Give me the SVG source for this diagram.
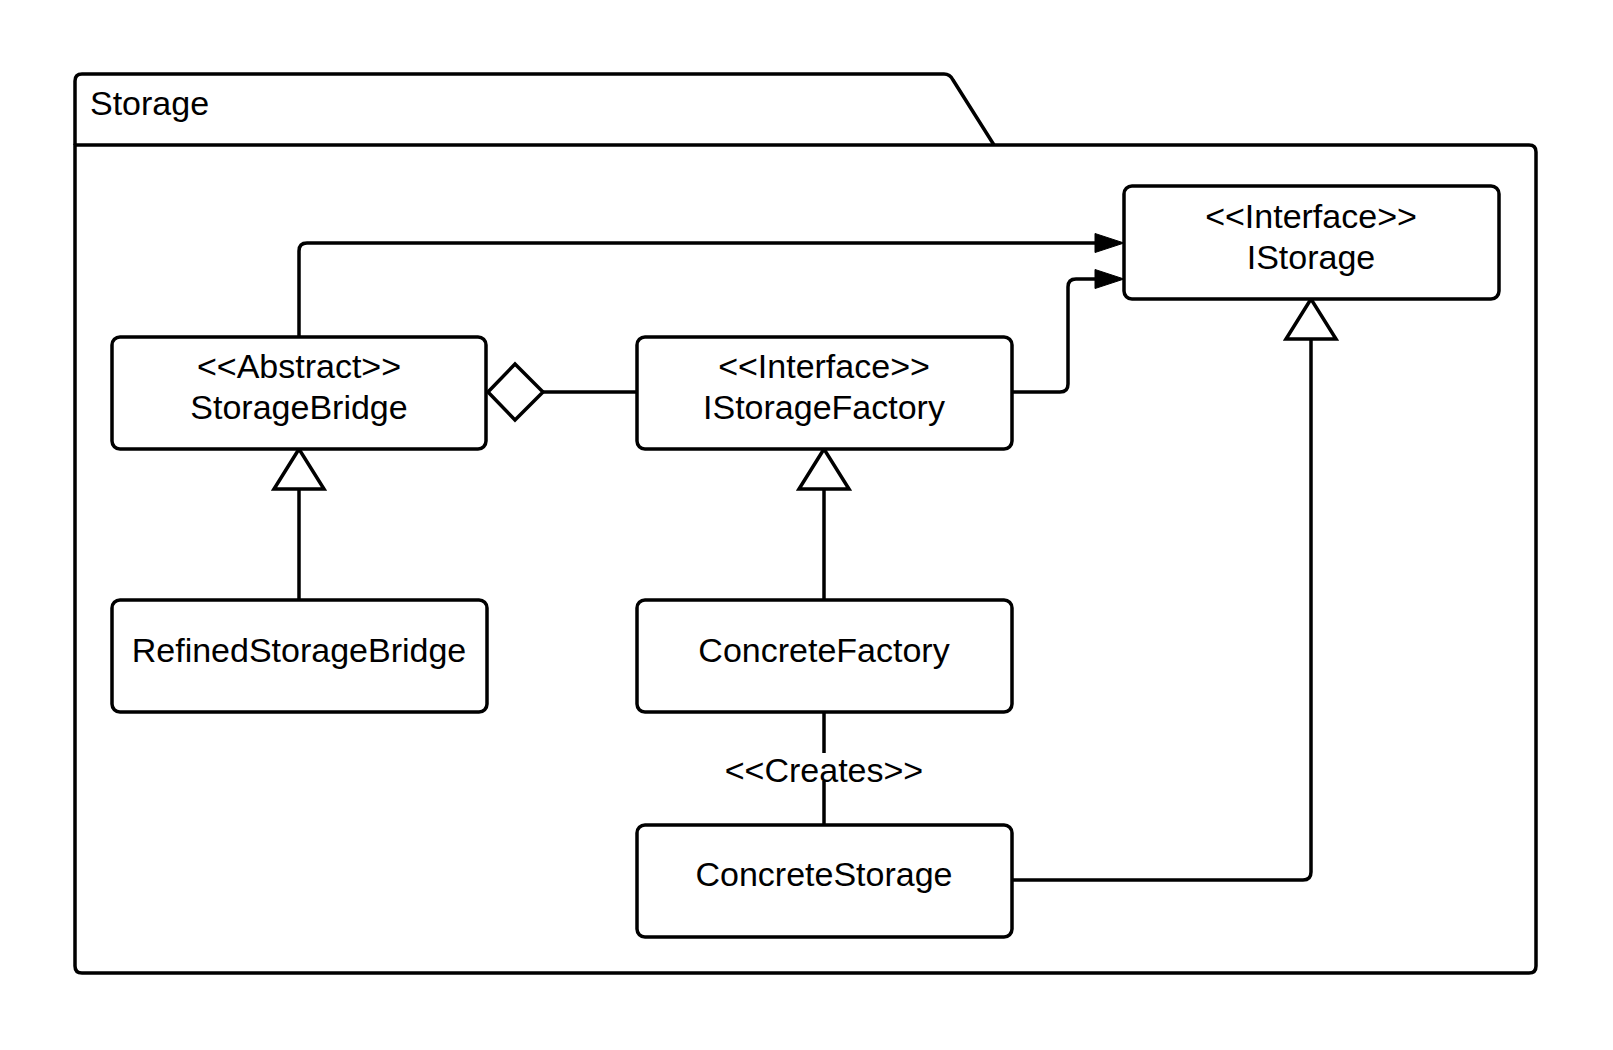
<svg xmlns="http://www.w3.org/2000/svg" width="1613" height="1050" viewBox="0 0 1613 1050">
  <style>
    .box { fill: #ffffff; stroke: #000000; stroke-width: 3.5; }
    .line { fill: none; stroke: #000000; stroke-width: 3.5; stroke-linejoin: round; }
    .head { fill: #000000; stroke: #000000; stroke-width: 1; }
    .open { fill: #ffffff; stroke: #000000; stroke-width: 3.5; stroke-linejoin: miter; }
    text { font-family: "Liberation Sans", Arial, sans-serif; font-size: 34px; fill: #000000; }
    .c { text-anchor: middle; }
  </style>
  <rect x="0" y="0" width="1613" height="1050" fill="#ffffff"/>

  <!-- Package frame with tab -->
  <g id="package-storage">
    <path class="line" d="M75,145 L75,81 Q75,74 82,74 L944,74 Q950,74 953,80 L994,145"/>
    <path class="line" d="M75,145 L1529,145 Q1536,145 1536,152 L1536,966 Q1536,973 1529,973 L82,973 Q75,973 75,966 Z"/>
    <text x="90" y="115">Storage</text>
  </g>

  <!-- Connectors -->
  <g id="connectors">
    <!-- StorageBridge -> IStorage -->
    <path class="line" d="M299,337 L299,251 Q299,243 307,243 L1096,243"/>
    <polygon class="head" points="1124,243 1095,233.5 1095,252.5"/>
    <!-- IStorageFactory -> IStorage -->
    <path class="line" d="M1012,392 L1060,392 Q1068,392 1068,384 L1068,287 Q1068,279 1076,279 L1096,279"/>
    <polygon class="head" points="1124,279 1095,269.5 1095,288.5"/>
    <!-- aggregation StorageBridge <>- IStorageFactory -->
    <line class="line" x1="543" y1="392" x2="637" y2="392"/>
    <polygon class="open" points="488,392 515,364 543,392 515,420"/>
    <!-- RefinedStorageBridge generalizes StorageBridge -->
    <line class="line" x1="299" y1="489" x2="299" y2="600"/>
    <polygon class="open" points="299,449 274,489 324,489"/>
    <!-- ConcreteFactory realizes IStorageFactory -->
    <line class="line" x1="824" y1="489" x2="824" y2="600"/>
    <polygon class="open" points="824,449 799,489 849,489"/>
    <!-- ConcreteStorage realizes IStorage -->
    <path class="line" d="M1012,880 L1303,880 Q1311,880 1311,872 L1311,339"/>
    <polygon class="open" points="1311,299 1286,339 1336,339"/>
    <!-- ConcreteFactory creates ConcreteStorage -->
    <line class="line" x1="824" y1="712" x2="824" y2="753"/>
    <line class="line" x1="824" y1="781" x2="824" y2="825"/>
    <text class="c" x="824" y="782">&lt;&lt;Creates&gt;&gt;</text>
  </g>

  <g id="node-istorage">
    <rect class="box" x="1124" y="186" width="375" height="113" rx="8"/>
    <text class="c" x="1311" y="228">&lt;&lt;Interface&gt;&gt;</text>
    <text class="c" x="1311" y="269">IStorage</text>
  </g>

  <g id="node-storagebridge">
    <rect class="box" x="112" y="337" width="374" height="112" rx="8"/>
    <text class="c" x="299" y="378">&lt;&lt;Abstract&gt;&gt;</text>
    <text class="c" x="299" y="419">StorageBridge</text>
  </g>

  <g id="node-istoragefactory">
    <rect class="box" x="637" y="337" width="375" height="112" rx="8"/>
    <text class="c" x="824" y="378">&lt;&lt;Interface&gt;&gt;</text>
    <text class="c" x="824" y="419">IStorageFactory</text>
  </g>

  <g id="node-refinedstoragebridge">
    <rect class="box" x="112" y="600" width="375" height="112" rx="8"/>
    <text class="c" x="299" y="662">RefinedStorageBridge</text>
  </g>

  <g id="node-concretefactory">
    <rect class="box" x="637" y="600" width="375" height="112" rx="8"/>
    <text class="c" x="824" y="662">ConcreteFactory</text>
  </g>

  <g id="node-concretestorage">
    <rect class="box" x="637" y="825" width="375" height="112" rx="8"/>
    <text class="c" x="824" y="886">ConcreteStorage</text>
  </g>
</svg>
